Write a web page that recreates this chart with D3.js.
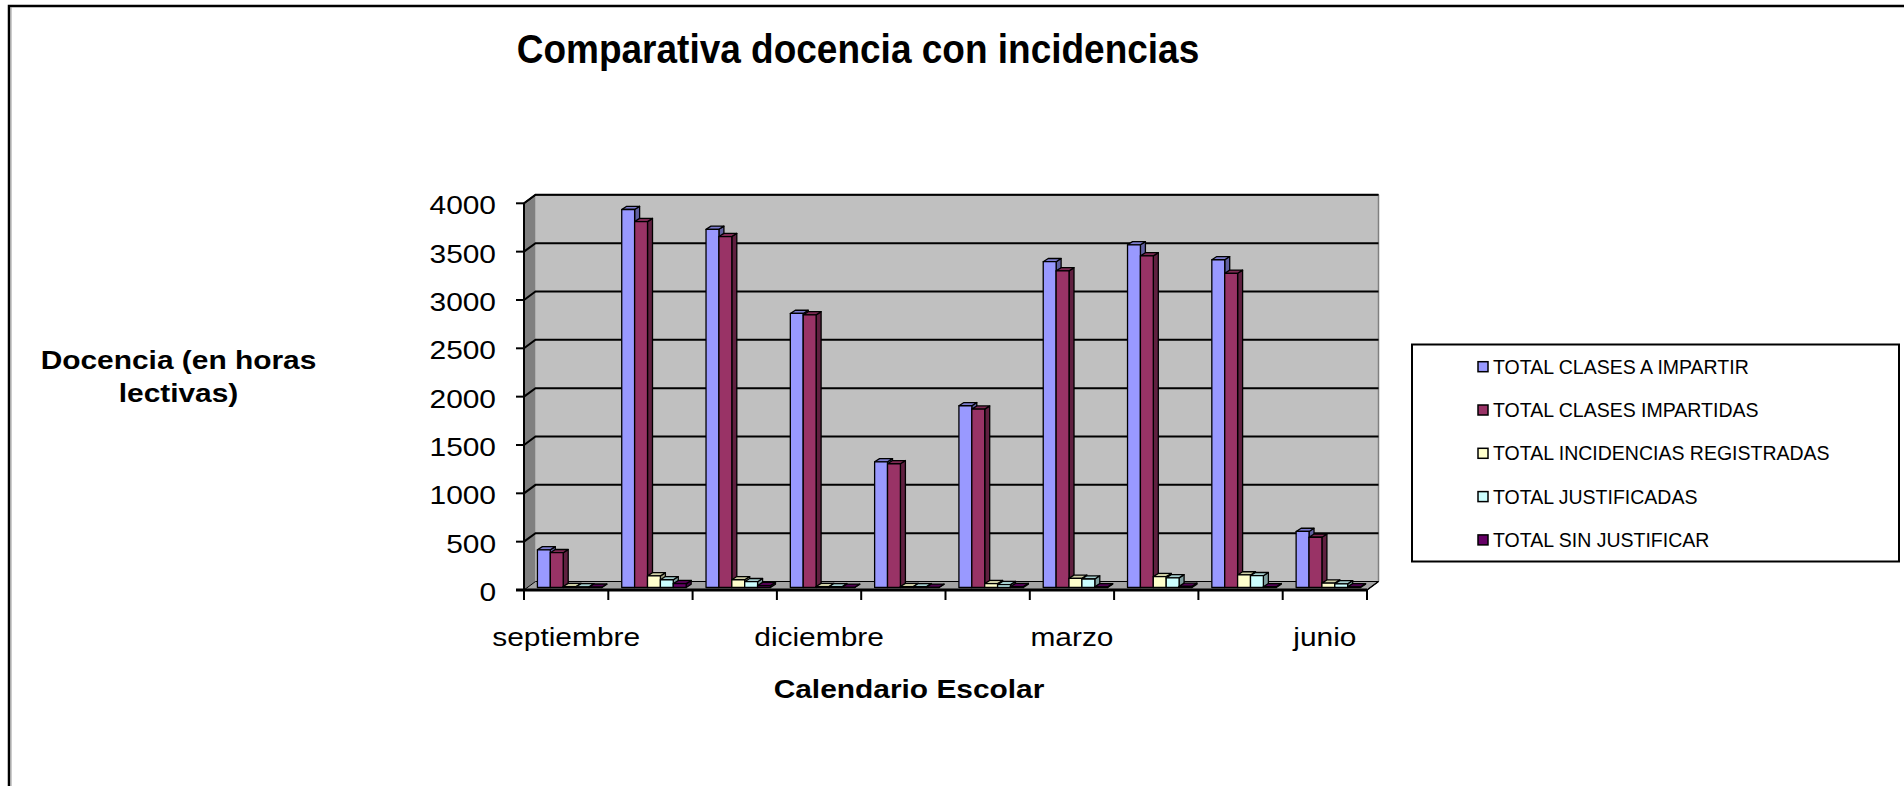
<!DOCTYPE html>
<html>
<head>
<meta charset="utf-8">
<script src="https://cdn.jsdelivr.net/npm/d3@7"></script>
<style>
  html, body { margin: 0; padding: 0; background: #fff; overflow: hidden; }
  svg { display: block; font-family: "Liberation Sans", Arial, sans-serif; }
</style>
</head>
<body>
<svg id="chart" width="1904" height="786"></svg>
<script>
var MONTHS = ['septiembre', 'octubre', 'noviembre', 'diciembre', 'enero',
  'febrero', 'marzo', 'abril', 'mayo', 'junio'];
var SHOWN_MONTHS = ['septiembre', 'diciembre', 'marzo', 'junio'];
var SERIES = ['TOTAL CLASES A IMPARTIR', 'TOTAL CLASES IMPARTIDAS',
  'TOTAL INCIDENCIAS REGISTRADAS', 'TOTAL JUSTIFICADAS', 'TOTAL SIN JUSTIFICAR'];

var A_IMPARTIR = [390, 3910, 3705, 2835, 1300, 1880, 3370, 3545, 3390, 580];
var IMPARTIDAS = [360, 3785, 3630, 2820, 1280, 1845, 3275, 3430, 3250, 520];
var REGISTRADAS = [10, 120, 80, 10, 10, 40, 95, 112, 130, 45];
var JUSTIFICADAS = [7, 80, 60, 8, 8, 30, 88, 100, 122, 38];
var SIN_JUSTIFICAR = [3, 40, 20, 2, 2, 10, 7, 12, 8, 7];
var VALUES = [A_IMPARTIR, IMPARTIDAS, REGISTRADAS, JUSTIFICADAS, SIN_JUSTIFICAR];

var COLORS = ['#9999ff', '#993366', '#ffffcc', '#ccffff', '#660066'];
var Y_TICKS = [0, 500, 1000, 1500, 2000, 2500, 3000, 3500, 4000];

var TITLE = 'Comparativa docencia con incidencias';
var Y_TITLE = ['Docencia (en horas', 'lectivas)'];
var X_TITLE = 'Calendario Escolar';

var svg = d3.select('#chart');

// floor front edge and wall depth
var FRONT_L = 524, FRONT_R = 1367, BASE = 590;
var DEPTH = [11.5, -8.5];
var BAR_OFF = [3.5, -2.5];
var BAR_DEPTH = [5, -3.2];

var x0 = d3.scaleBand().domain(MONTHS).range([FRONT_L, FRONT_R]).padding(0);
var x1 = d3.scaleBand().domain(d3.range(SERIES.length))
  .range([0, x0.bandwidth()]).paddingInner(0).paddingOuter(0.77);
var y = d3.scaleLinear().domain([0, 4000]).range([BASE, 203.3]);

function stretchedText(parent, x, yy, txt, size, weight, sx, sy, anchor) {
  return parent.append('text')
    .attr('transform', 'translate(' + x + ',' + yy + ') scale(' + sx + ',' + sy + ')')
    .attr('text-anchor', anchor || 'middle')
    .attr('font-size', size)
    .attr('font-weight', weight)
    .attr('fill', '#000')
    .text(txt);
}

function pts(list) {
  return list.map(function (p) { return p[0] + ',' + p[1]; }).join(' ');
}

// outer frame
svg.append('rect').attr('x', 9).attr('y', 6).attr('width', 1920).attr('height', 800)
  .attr('fill', '#fff').attr('stroke', '#000').attr('stroke-width', 2.5);
svg.append('line').attr('x1', 11).attr('x2', 11).attr('y1', 7).attr('y2', 786)
  .attr('stroke', '#999').attr('stroke-width', 1);

// walls and floor
var bx = FRONT_L + DEPTH[0], by = BASE + DEPTH[1];
var topY = y(4000);
svg.append('rect').attr('x', bx).attr('y', topY + DEPTH[1])
  .attr('width', FRONT_R - FRONT_L).attr('height', BASE - topY)
  .attr('fill', '#c0c0c0');
svg.append('line').attr('x1', bx).attr('x2', FRONT_R + DEPTH[0])
  .attr('y1', topY + DEPTH[1]).attr('y2', topY + DEPTH[1])
  .attr('stroke', '#000').attr('stroke-width', 1.5);
svg.append('line').attr('x1', FRONT_R + DEPTH[0]).attr('x2', FRONT_R + DEPTH[0])
  .attr('y1', topY + DEPTH[1]).attr('y2', by)
  .attr('stroke', '#808080').attr('stroke-width', 1.5);
svg.append('polygon')
  .attr('points', pts([[FRONT_L, BASE], [FRONT_L, topY], [bx, topY + DEPTH[1]], [bx, by]]))
  .attr('fill', '#808080');
svg.append('polygon')
  .attr('points', pts([[FRONT_L, BASE], [FRONT_R, BASE], [FRONT_R + DEPTH[0], by], [bx, by]]))
  .attr('fill', '#a4a4a4')
  .attr('stroke', '#000').attr('stroke-width', 1);

// gridlines (side wall + back wall)
var grid = svg.append('g').attr('stroke', '#000').attr('stroke-width', 2).attr('fill', 'none');
Y_TICKS.forEach(function (t) {
  if (t === 0) return;
  grid.append('polyline')
    .attr('points', pts([[FRONT_L, y(t)], [bx, y(t) + DEPTH[1]], [FRONT_R + DEPTH[0], y(t) + DEPTH[1]]]));
});

// bars
var bars = svg.append('g').attr('stroke', '#000').attr('stroke-width', 1.3).attr('stroke-linejoin', 'round');
MONTHS.forEach(function (m, i) {
  VALUES.forEach(function (vals, s) {
    var c = d3.color(COLORS[s]);
    var w = x1.bandwidth();
    var x = x0(m) + x1(s) + BAR_OFF[0];
    var yb = y(0) + BAR_OFF[1];
    var yt = y(vals[i]) + BAR_OFF[1];
    var g = bars.append('g');
    g.append('polygon')
      .attr('points', pts([[x + w, yt], [x + w + BAR_DEPTH[0], yt + BAR_DEPTH[1]],
        [x + w + BAR_DEPTH[0], yb + BAR_DEPTH[1]], [x + w, yb]]))
      .attr('fill', c.darker(1.3));
    g.append('polygon')
      .attr('points', pts([[x, yt], [x + w, yt], [x + w + BAR_DEPTH[0], yt + BAR_DEPTH[1]],
        [x + BAR_DEPTH[0], yt + BAR_DEPTH[1]]]))
      .attr('fill', c.darker(0.6));
    g.append('rect').attr('x', x).attr('y', yt).attr('width', w).attr('height', Math.max(0, yb - yt))
      .attr('fill', c);
  });
});

// axes
var axes = svg.append('g').attr('stroke', '#000');
axes.append('line').attr('x1', FRONT_L).attr('x2', FRONT_L).attr('y1', topY).attr('y2', BASE)
  .attr('stroke-width', 2);
axes.append('line').attr('x1', FRONT_L).attr('x2', bx).attr('y1', topY).attr('y2', topY + DEPTH[1])
  .attr('stroke-width', 1.5);
axes.append('line').attr('x1', FRONT_L - 8).attr('x2', FRONT_R).attr('y1', BASE).attr('y2', BASE)
  .attr('stroke-width', 3);
axes.append('line').attr('x1', FRONT_R).attr('x2', FRONT_R + DEPTH[0]).attr('y1', BASE).attr('y2', by)
  .attr('stroke-width', 1.5);
Y_TICKS.forEach(function (t) {
  axes.append('line').attr('x1', FRONT_L - 8).attr('x2', FRONT_L).attr('y1', y(t)).attr('y2', y(t))
    .attr('stroke-width', 2);
});
MONTHS.concat([null]).forEach(function (m) {
  var xx = m === null ? FRONT_R : x0(m);
  axes.append('line').attr('x1', xx).attr('x2', xx).attr('y1', BASE).attr('y2', BASE + 10)
    .attr('stroke-width', 2);
});

// tick labels
Y_TICKS.forEach(function (t) {
  stretchedText(svg, 496, y(t) + 11, String(t), 26, 'normal', 1.15, 1, 'end');
});
SHOWN_MONTHS.forEach(function (m) {
  stretchedText(svg, x0(m) + x0.bandwidth() / 2, 646, m, 26, 'normal', 1.15, 1);
});

// titles
stretchedText(svg, 858, 63, TITLE, 37, 'bold', 1, 1.08);
stretchedText(svg, 178.5, 369.3, Y_TITLE[0], 26, 'bold', 1.15, 1);
stretchedText(svg, 178.5, 401.7, Y_TITLE[1], 26, 'bold', 1.15, 1);
stretchedText(svg, 909, 698, X_TITLE, 26, 'bold', 1.15, 1);

// legend
var legend = svg.append('g');
legend.append('rect').attr('x', 1412).attr('y', 344.5).attr('width', 487).attr('height', 217)
  .attr('fill', '#fff').attr('stroke', '#000').attr('stroke-width', 2);
SERIES.forEach(function (name, s) {
  var cy = 366.7 + s * 43.3;
  legend.append('rect').attr('x', 1478).attr('y', cy - 5).attr('width', 10).attr('height', 10)
    .attr('fill', COLORS[s]).attr('stroke', '#000').attr('stroke-width', 1.5);
  legend.append('text').attr('x', 1493).attr('y', cy + 7)
    .attr('font-size', 19.5).attr('fill', '#000').text(name);
});
</script>
</body>
</html>
